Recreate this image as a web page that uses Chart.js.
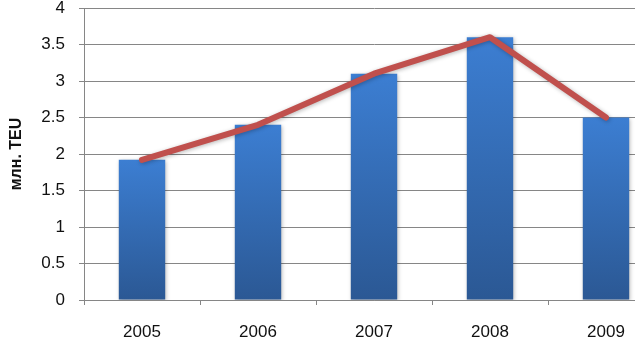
<!DOCTYPE html>
<html>
<head>
<meta charset="utf-8">
<script src="https://cdn.jsdelivr.net/npm/chart.js@4/dist/chart.umd.min.js"></script>
<style>
  html, body { margin: 0; padding: 0; background: #fff; overflow: hidden; }
  #wrap { position: relative; width: 664px; height: 339px; }
</style>
</head>
<body>
<div id="wrap"><canvas id="c"></canvas></div>
<script>
// Throughput by year, million TEU
const years = ['2005', '2006', '2007', '2008', '2009'];
const volumes = [1.92, 2.4, 3.1, 3.6, 2.5];
const trend = [1.92, 2.4, 3.1, 3.6, 2.5];
const yTicks = [0, 0.5, 1, 1.5, 2, 2.5, 3, 3.5, 4];
const yTitle = 'млн. TEU';

const FONT = "'Liberation Sans', Arial, sans-serif";

// vertical gradient per bar: lighter at the top, darker at the base
function barFill(ctx) {
  const chart = ctx.chart;
  const area = chart.chartArea;
  if (!area) return '#3a78c8';
  const y = chart.scales.y;
  const top = y.getPixelForValue(ctx.raw);
  const bottom = y.getPixelForValue(0);
  const g = chart.ctx.createLinearGradient(0, top, 0, bottom);
  g.addColorStop(0, '#3c7ed2');
  g.addColorStop(1, '#2b5894');
  return g;
}

// soft drop shadow under bars and the line
const shadowPlugin = {
  id: 'shadow',
  beforeDatasetDraw(chart) {
    const c = chart.ctx;
    c.save();
    c.shadowColor = 'rgba(0,0,0,0.28)';
    c.shadowBlur = 4;
    c.shadowOffsetX = 1;
    c.shadowOffsetY = 1;
  },
  afterDatasetDraw(chart) {
    chart.ctx.restore();
  }
};

new Chart(document.getElementById('c'), {
  data: {
    labels: years,
    datasets: [
      {
        type: 'line',
        data: trend,
        borderColor: '#c0504d',
        borderWidth: 6,
        pointRadius: 0,
        tension: 0,
        borderCapStyle: 'round',
        borderJoinStyle: 'round',
        order: 0
      },
      {
        type: 'bar',
        data: volumes,
        backgroundColor: barFill,
        borderWidth: 0,
        categoryPercentage: 1,
        barPercentage: 0.4,
        order: 1
      }
    ]
  },
  plugins: [shadowPlugin],
  options: {
    responsive: true,
    maintainAspectRatio: false,
    animation: false,
    layout: { padding: { top: 8, right: 0, bottom: 0, left: 0 } },
    plugins: {
      legend: { display: false },
      tooltip: { enabled: false }
    },
    scales: {
      x: {
        offset: true,
        grid: {
          offset: true,
          drawOnChartArea: false,
          drawTicks: true,
          tickLength: 5,
          color: '#868686'
        },
        border: { display: true, color: '#868686' },
        ticks: {
          color: '#111',
          font: { family: FONT, size: 17 },
          padding: 17,
          maxRotation: 0,
          autoSkip: false
        },
        afterFit(scale) {
          scale.height = 39;
          scale.paddingLeft = 0;
          scale.paddingRight = 0;
        }
      },
      y: {
        min: 0,
        max: 4,
        afterBuildTicks(scale) { scale.ticks = yTicks.map(v => ({ value: v })); },
        grid: {
          color: '#868686',
          tickLength: 5,
          drawTicks: true
        },
        border: { display: true, color: '#868686' },
        ticks: {
          color: '#111',
          font: { family: FONT, size: 17 },
          padding: 14,
          callback: v => String(v)
        },
        title: {
          display: true,
          text: yTitle,
          color: '#111',
          font: { family: FONT, size: 16, weight: 'bold' },
          padding: { top: 7, bottom: 2 }
        },
        afterFit(scale) {
          scale.width = 84;
          scale.paddingTop = 0;
          scale.paddingBottom = 0;
        }
      }
    }
  }
});
</script>
</body>
</html>
